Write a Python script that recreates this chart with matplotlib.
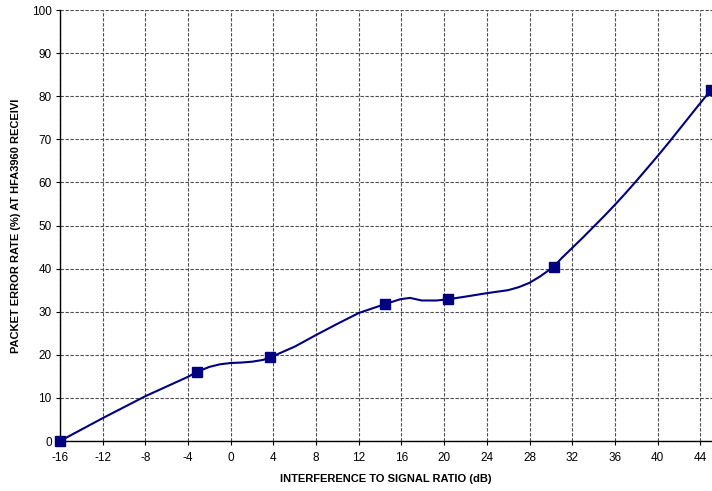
import matplotlib
matplotlib.use("Agg")
import matplotlib.pyplot as plt

plt.rcParams['font.family'] = ['Liberation Sans', 'DejaVu Sans']
plt.rcParams['axes.unicode_minus'] = False

# measured points (square markers)
mark_x = [-16, -3.2, 3.7, 14.5, 20.4, 30.25, 45.0]
mark_y = [0, 16.0, 19.4, 31.8, 32.9, 40.4, 81.4]

# smoothed curve
curve_x = [-16, -12, -8, -4, -3.2, -2, -1, 0, 1, 2, 3, 3.7, 6, 8, 10, 12, 14.5,
           15.9, 16.8, 17.9, 19.3, 20.4, 22, 24, 26, 27, 28, 29, 30.25, 31, 32,
           33, 34, 35, 36, 37, 38, 39, 40, 41, 42, 43, 44, 45.0]
curve_y = [0, 5.3, 10.4, 14.9, 16.0, 17.2, 17.8, 18.1, 18.2, 18.4, 18.8, 19.4,
           21.9, 24.6, 27.2, 29.7, 31.8, 32.9, 33.2, 32.6, 32.6, 32.9, 33.5,
           34.3, 35.0, 35.7, 36.7, 38.2, 40.4, 42.4, 44.8, 47.2, 49.7, 52.2,
           54.8, 57.5, 60.3, 63.2, 66.1, 69.1, 72.2, 75.3, 78.4, 81.4]

xticks = list(range(-16, 45, 4))
yticks = list(range(0, 101, 10))

fig = plt.figure(figsize=(7.12, 4.91), dpi=100)
ax = fig.add_axes([60 / 712, 50 / 491, 652 / 712, 431 / 491])

ax.plot(curve_x, curve_y, color='#000080', lw=1.5, zorder=3, clip_on=False)
ax.plot(mark_x, mark_y, ls='none', marker='s', ms=6.5, color='#000080',
        zorder=4, clip_on=False)

ax.set_xlim(-16, 45.1)
ax.set_ylim(0, 100)
ax.set_xticks(xticks)
ax.set_yticks(yticks)
ax.grid(True, color='0.3', lw=0.8, ls=(0, (3, 1.5)))
ax.set_axisbelow(True)

for s in ['top', 'right']:
    ax.spines[s].set_visible(False)
for s in ['left', 'bottom']:
    ax.spines[s].set_linewidth(1.0)
    ax.spines[s].set_color('black')

ax.tick_params(direction='out', length=3, width=0.8, labelsize=8.5)
ax.tick_params(axis='x', pad=5)
ax.tick_params(axis='y', pad=3)

ax.set_xlabel('INTERFERENCE TO SIGNAL RATIO (dB)', fontsize=8, fontweight='bold',
              labelpad=7)
ax.set_ylabel('PACKET ERROR RATE (%) AT HFA3960 RECEIVI', fontsize=8,
              fontweight='bold', labelpad=8)

fig.savefig('out.png', dpi=100)
